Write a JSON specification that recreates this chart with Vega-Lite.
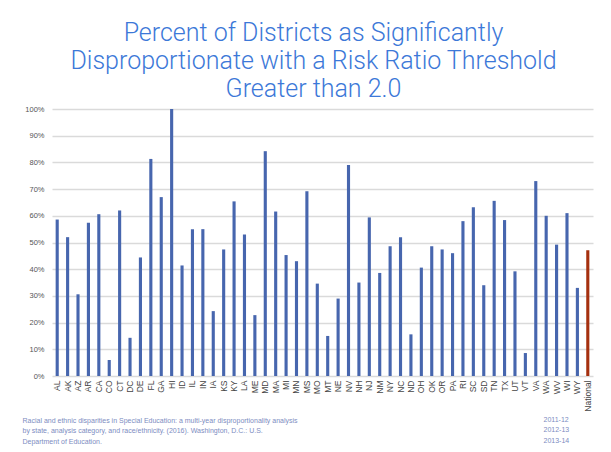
{
  "$schema": "https://vega.github.io/schema/vega-lite/v6.json",
  "autosize": "none",
  "width": 541,
  "height": 267,
  "padding": {"left": 52, "top": 109, "right": 18, "bottom": 76},
  "background": "white",
  "title": {
    "text": ["Percent of Districts as Significantly", "Disproportionate with a Risk Ratio Threshold", "Greater than 2.0"],
    "anchor": "middle",
    "frame": "group",
    "dx": -9,
    "offset": 3,
    "font": "Roboto",
    "fontWeight": 300,
    "fontSize": 25,
    "lineHeight": 28,
    "color": "#3C78D8"
  },
  "data": {
    "values": [
      {"state": "AL", "pct": 58.6, "group": "State"},
      {"state": "AK", "pct": 52.0, "group": "State"},
      {"state": "AZ", "pct": 30.6, "group": "State"},
      {"state": "AR", "pct": 57.4, "group": "State"},
      {"state": "CA", "pct": 60.6, "group": "State"},
      {"state": "CO", "pct": 6.0, "group": "State"},
      {"state": "CT", "pct": 62.0, "group": "State"},
      {"state": "DC", "pct": 14.3, "group": "State"},
      {"state": "DE", "pct": 44.4, "group": "State"},
      {"state": "FL", "pct": 81.3, "group": "State"},
      {"state": "GA", "pct": 67.0, "group": "State"},
      {"state": "HI", "pct": 100.0, "group": "State"},
      {"state": "ID", "pct": 41.4, "group": "State"},
      {"state": "IL", "pct": 55.0, "group": "State"},
      {"state": "IN", "pct": 55.0, "group": "State"},
      {"state": "IA", "pct": 24.3, "group": "State"},
      {"state": "KS", "pct": 47.4, "group": "State"},
      {"state": "KY", "pct": 65.4, "group": "State"},
      {"state": "LA", "pct": 53.0, "group": "State"},
      {"state": "ME", "pct": 22.8, "group": "State"},
      {"state": "MD", "pct": 84.2, "group": "State"},
      {"state": "MA", "pct": 61.6, "group": "State"},
      {"state": "MI", "pct": 45.3, "group": "State"},
      {"state": "MN", "pct": 43.0, "group": "State"},
      {"state": "MS", "pct": 69.2, "group": "State"},
      {"state": "MO", "pct": 34.6, "group": "State"},
      {"state": "MT", "pct": 15.0, "group": "State"},
      {"state": "NE", "pct": 29.0, "group": "State"},
      {"state": "NV", "pct": 79.0, "group": "State"},
      {"state": "NH", "pct": 35.0, "group": "State"},
      {"state": "NJ", "pct": 59.4, "group": "State"},
      {"state": "NM", "pct": 38.6, "group": "State"},
      {"state": "NY", "pct": 48.6, "group": "State"},
      {"state": "NC", "pct": 52.0, "group": "State"},
      {"state": "ND", "pct": 15.6, "group": "State"},
      {"state": "OH", "pct": 40.6, "group": "State"},
      {"state": "OK", "pct": 48.6, "group": "State"},
      {"state": "OR", "pct": 47.4, "group": "State"},
      {"state": "PA", "pct": 46.0, "group": "State"},
      {"state": "RI", "pct": 58.0, "group": "State"},
      {"state": "SC", "pct": 63.2, "group": "State"},
      {"state": "SD", "pct": 34.0, "group": "State"},
      {"state": "TN", "pct": 65.6, "group": "State"},
      {"state": "TX", "pct": 58.4, "group": "State"},
      {"state": "UT", "pct": 39.2, "group": "State"},
      {"state": "VT", "pct": 8.6, "group": "State"},
      {"state": "VA", "pct": 73.0, "group": "State"},
      {"state": "WA", "pct": 60.0, "group": "State"},
      {"state": "WV", "pct": 49.2, "group": "State"},
      {"state": "WI", "pct": 61.0, "group": "State"},
      {"state": "WY", "pct": 33.0, "group": "State"},
      {"state": "National", "pct": 47.1, "group": "National"}
    ]
  },
  "mark": {"type": "bar"},
  "encoding": {
    "x": {
      "field": "state",
      "type": "nominal",
      "sort": null,
      "scale": {"paddingInner": 0.7, "paddingOuter": 0.35},
      "axis": {
        "title": ["Racial and ethnic disparities in Special Education: a multi-year disproportionality analysis", "by state, analysis category, and race/ethnicity. (2016). Washington, D.C.: U.S.", "Department of Education."],
        "titleAnchor": "start",
        "titleAlign": "left",
        "titleBaseline": "top",
        "titleX": -30,
        "titleY": 40,
        "titleFont": "Liberation Sans",
        "titleFontWeight": "normal",
        "titleFontSize": 7,
        "titleLineHeight": 10.5,
        "titleColor": "#7D8CBF",
        "labelAngle": -90,
        "labelAlign": "right",
        "labelBaseline": "middle",
        "labelFont": "Liberation Sans",
        "labelFontSize": 8.5,
        "labelColor": "#444444",
        "labelPadding": 4,
        "ticks": false,
        "domain": false,
        "grid": false
      }
    },
    "y": {
      "field": "pct",
      "type": "quantitative",
      "scale": {"domain": [0, 100], "nice": false},
      "axis": {
        "values": [0, 10, 20, 30, 40, 50, 60, 70, 80, 90, 100],
        "labelExpr": "datum.value + '%'",
        "title": ["2011-12", "2012-13", "2013-14"],
        "titleAngle": 0,
        "titleAnchor": "start",
        "titleAlign": "left",
        "titleBaseline": "top",
        "titleX": 491,
        "titleY": 306,
        "titleFont": "Liberation Sans",
        "titleFontWeight": "normal",
        "titleFontSize": 7,
        "titleLineHeight": 10.5,
        "titleColor": "#7D8CBF",
        "labelFont": "Liberation Sans",
        "labelFontSize": 7.5,
        "labelColor": "#555555",
        "labelPadding": 8,
        "ticks": false,
        "domain": false,
        "grid": true,
        "gridColor": "#DADADA",
        "gridWidth": 1.5
      }
    },
    "color": {
      "field": "group",
      "type": "nominal",
      "scale": {"domain": ["State", "National"], "range": ["#4766AE", "#A5300F"]},
      "legend": null
    }
  },
  "config": {"view": {"stroke": null}}
}
